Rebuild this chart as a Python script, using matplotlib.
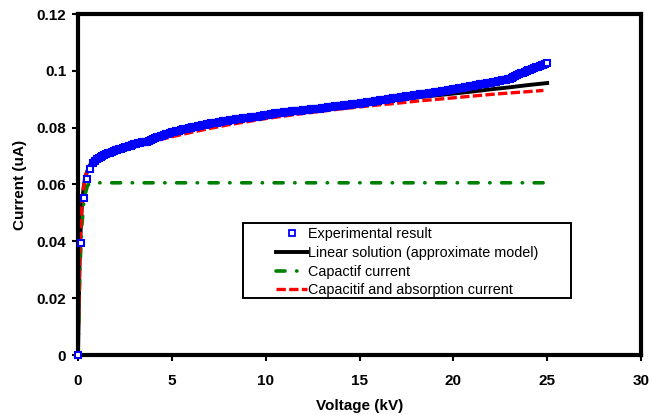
import matplotlib
matplotlib.use("Agg")
import matplotlib.pyplot as plt
from matplotlib.patches import Rectangle

plt.rcParams['font.family'] = ['Liberation Sans', 'DejaVu Sans']

# Experimental result (voltage kV, current uA)
exp_x = [0.0, 0.16, 0.34, 0.5, 0.64, 0.8, 0.9,
         1.0, 1.1, 1.2, 1.3, 1.4, 1.5, 1.6, 1.7, 1.8, 1.9,
         2.0, 2.1, 2.2, 2.3, 2.4, 2.5, 2.6, 2.7, 2.8, 2.9,
         3.0, 3.1, 3.2, 3.3, 3.4, 3.5, 3.6, 3.7, 3.8, 3.9,
         4.0, 4.1, 4.2, 4.3, 4.4, 4.5, 4.6, 4.7, 4.8, 4.9,
         5.0, 5.1, 5.2, 5.3, 5.4, 5.5, 5.6, 5.7, 5.8, 5.9,
         6.0, 6.1, 6.2, 6.3, 6.4, 6.5, 6.6, 6.7, 6.8, 6.9,
         7.0, 7.1, 7.2, 7.3, 7.4, 7.5, 7.6, 7.7, 7.8, 7.9,
         8.0, 8.1, 8.2, 8.3, 8.4, 8.5, 8.6, 8.7, 8.8, 8.9,
         9.0, 9.1, 9.2, 9.3, 9.4, 9.5, 9.6, 9.7, 9.8, 9.9,
         10.0, 10.1, 10.2, 10.3, 10.4, 10.5, 10.6, 10.7, 10.8, 10.9,
         11.0, 11.1, 11.2, 11.3, 11.4, 11.5, 11.6, 11.7, 11.8, 11.9,
         12.0, 12.1, 12.2, 12.3, 12.4, 12.5, 12.6, 12.7, 12.8, 12.9,
         13.0, 13.1, 13.2, 13.3, 13.4, 13.5, 13.6, 13.7, 13.8, 13.9,
         14.0, 14.1, 14.2, 14.3, 14.4, 14.5, 14.6, 14.7, 14.8, 14.9,
         15.0, 15.1, 15.2, 15.3, 15.4, 15.5, 15.6, 15.7, 15.8, 15.9,
         16.0, 16.1, 16.2, 16.3, 16.4, 16.5, 16.6, 16.7, 16.8, 16.9,
         17.0, 17.1, 17.2, 17.3, 17.4, 17.5, 17.6, 17.7, 17.8, 17.9,
         18.0, 18.1, 18.2, 18.3, 18.4, 18.5, 18.6, 18.7, 18.8, 18.9,
         19.0, 19.1, 19.2, 19.3, 19.4, 19.5, 19.6, 19.7, 19.8, 19.9,
         20.0, 20.1, 20.2, 20.3, 20.4, 20.5, 20.6, 20.7, 20.8, 20.9,
         21.0, 21.1, 21.2, 21.3, 21.4, 21.5, 21.6, 21.7, 21.8, 21.9,
         22.0, 22.1, 22.2, 22.3, 22.4, 22.5, 22.6, 22.7, 22.8, 22.9,
         23.0, 23.1, 23.2, 23.3, 23.4, 23.5, 23.6, 23.7, 23.8, 23.9,
         24.0, 24.1, 24.2, 24.3, 24.4, 24.5, 24.6, 24.7, 24.8, 24.9,
         25.0]
exp_y = [0.0, 0.0395, 0.0554, 0.0621, 0.0653, 0.0675, 0.0682,
         0.0690, 0.0693, 0.0697, 0.0700, 0.0703, 0.0708, 0.0710, 0.0712, 0.0714, 0.0717,
         0.0721, 0.0722, 0.0724, 0.0726, 0.0729, 0.0731, 0.0733, 0.0735, 0.0737, 0.0739,
         0.0741, 0.0743, 0.0745, 0.0746, 0.0748, 0.0750, 0.0749, 0.0748, 0.0752, 0.0757,
         0.0761, 0.0764, 0.0766, 0.0768, 0.0770, 0.0772, 0.0774, 0.0777, 0.0779, 0.0781,
         0.0784, 0.0785, 0.0787, 0.0789, 0.0790, 0.0792, 0.0794, 0.0795, 0.0797, 0.0798,
         0.0800, 0.0801, 0.0803, 0.0804, 0.0806, 0.0807, 0.0808, 0.0810, 0.0811, 0.0812,
         0.0813, 0.0815, 0.0816, 0.0817, 0.0818, 0.0819, 0.0820, 0.0822, 0.0823, 0.0823,
         0.0824, 0.0826, 0.0827, 0.0828, 0.0829, 0.0830, 0.0831, 0.0832, 0.0833, 0.0833,
         0.0834, 0.0835, 0.0836, 0.0837, 0.0837, 0.0838, 0.0839, 0.0840, 0.0842, 0.0843,
         0.0844, 0.0845, 0.0846, 0.0848, 0.0849, 0.0850, 0.0850, 0.0851, 0.0852, 0.0853,
         0.0854, 0.0855, 0.0855, 0.0856, 0.0857, 0.0858, 0.0859, 0.0859, 0.0860, 0.0860,
         0.0861, 0.0862, 0.0863, 0.0863, 0.0864, 0.0865, 0.0865, 0.0866, 0.0866, 0.0867,
         0.0868, 0.0869, 0.0870, 0.0871, 0.0872, 0.0873, 0.0874, 0.0875, 0.0875, 0.0876,
         0.0877, 0.0878, 0.0879, 0.0880, 0.0880, 0.0881, 0.0882, 0.0883, 0.0884, 0.0884,
         0.0885, 0.0886, 0.0887, 0.0888, 0.0889, 0.0890, 0.0891, 0.0892, 0.0893, 0.0894,
         0.0895, 0.0896, 0.0897, 0.0898, 0.0899, 0.0900, 0.0901, 0.0902, 0.0903, 0.0904,
         0.0905, 0.0906, 0.0907, 0.0908, 0.0909, 0.0910, 0.0911, 0.0912, 0.0913, 0.0914,
         0.0915, 0.0916, 0.0917, 0.0917, 0.0918, 0.0919, 0.0920, 0.0921, 0.0922, 0.0923,
         0.0924, 0.0925, 0.0926, 0.0927, 0.0928, 0.0929, 0.0930, 0.0931, 0.0932, 0.0934,
         0.0935, 0.0936, 0.0937, 0.0938, 0.0940, 0.0941, 0.0942, 0.0943, 0.0944, 0.0946,
         0.0947, 0.0948, 0.0949, 0.0950, 0.0952, 0.0953, 0.0954, 0.0955, 0.0956, 0.0957,
         0.0958, 0.0959, 0.0960, 0.0962, 0.0963, 0.0964, 0.0966, 0.0967, 0.0969, 0.0971,
         0.0973, 0.0976, 0.0979, 0.0982, 0.0985, 0.0988, 0.0991, 0.0994, 0.0997, 0.1000,
         0.1002, 0.1004, 0.1007, 0.1009, 0.1012, 0.1014, 0.1016, 0.1019, 0.1021, 0.1023,
         0.1026]

# Linear solution (approximate model)
lin_x = [0, 0.05, 0.1, 0.2, 0.3, 0.4, 0.6, 0.8, 1, 1.5, 2, 3, 4, 5, 6, 7, 8, 9,
         10, 11, 12, 13, 14, 15, 16, 17, 18, 19, 20, 21, 22, 23, 24, 25]
lin_y = [0, 0.020, 0.038, 0.052, 0.059, 0.063, 0.0665, 0.0683, 0.0693, 0.0709,
         0.0721, 0.0741, 0.0759, 0.0777, 0.0793, 0.0807, 0.0820, 0.0832, 0.0842,
         0.0852, 0.0861, 0.0869, 0.0877, 0.0885, 0.0892, 0.0899, 0.0906, 0.0913,
         0.0920, 0.0927, 0.0935, 0.0942, 0.0950, 0.0957]

# Capacitif current
cap_x = [0, 0.05, 0.1, 0.2, 0.3, 0.4, 0.5, 0.6, 0.8, 25]
cap_y = [0, 0.015, 0.030, 0.045, 0.053, 0.057, 0.0595, 0.0603, 0.0606, 0.0606]

# Capacitif and absorption current
abs_x = [0, 0.05, 0.1, 0.2, 0.3, 0.4, 0.6, 0.8, 1, 1.5, 2, 3, 4, 5, 6, 7, 8, 9,
         10, 11, 12, 13, 14, 15, 16, 17, 18, 19, 20, 21, 22, 23, 24, 24.8]
abs_y = [0, 0.020, 0.038, 0.052, 0.059, 0.063, 0.0663, 0.0680, 0.0690, 0.0705,
         0.0716, 0.0735, 0.0752, 0.0768, 0.0783, 0.0797, 0.0810, 0.0821, 0.0832,
         0.0841, 0.0850, 0.0858, 0.0866, 0.0873, 0.0880, 0.0886, 0.0893, 0.0899,
         0.0905, 0.0911, 0.0917, 0.0922, 0.0927, 0.0931]

x_ticks = [0, 5, 10, 15, 20, 25, 30]
y_ticks = [0, 0.02, 0.04, 0.06, 0.08, 0.1, 0.12]
y_tick_labels = ['0', '0.02', '0.04', '0.06', '0.08', '0.1', '0.12']

fig = plt.figure(figsize=(6.52, 4.15), dpi=100)
ax = fig.add_axes([78/652, 1-355/415, (641-78)/652, (355-14)/415])

ax.plot(lin_x, lin_y, color='black', linewidth=2.8,
        label='Linear solution (approximate model)', zorder=2)
ax.plot(cap_x, cap_y, color='#008000', linewidth=2.6,
        dashes=(2.5, 3.2, 0.1, 3.2), dash_capstyle='round',
        label='Capactif current', zorder=2)
ax.plot(abs_x, abs_y, color='#ff0000', linewidth=2.4, dashes=(2.8, 1.0),
        label='Capacitif and absorption current', zorder=2.5)
ax.plot(exp_x, exp_y, linestyle='none', marker='s', markersize=4.6,
        markerfacecolor='white', markeredgecolor='#0000ff', markeredgewidth=1.5,
        label='Experimental result', clip_on=False, zorder=3)

ax.set_xlim(0, 30)
ax.set_ylim(0, 0.12)
ax.set_xticks(x_ticks)
ax.set_yticks(y_ticks)
ax.set_yticklabels(y_tick_labels)

for s in ax.spines.values():
    s.set_linewidth(3)
    s.set_color('black')
ax.tick_params(axis='both', direction='out', length=4.5, width=1.5,
               labelsize=11)
ax.tick_params(axis='x', pad=9)
ax.tick_params(axis='y', pad=4)
for lab in ax.get_xticklabels() + ax.get_yticklabels():
    lab.set_fontweight('bold')

ax.set_xlabel('Voltage (kV)', fontsize=11, fontweight='bold', labelpad=8)
ax.set_ylabel('Current (uA)', fontsize=11, fontweight='bold', labelpad=7)

# legend frame (fixed size box) and centred legend content
box = (0.293, 0.167, 0.583, 0.22)
ax.add_patch(Rectangle((box[0], box[1]), box[2], box[3], transform=ax.transAxes,
                       facecolor='white', edgecolor='black', linewidth=1.4,
                       zorder=4))
handles, labels = ax.get_legend_handles_labels()
order = [3, 0, 1, 2]
leg = ax.legend([handles[i] for i in order], [labels[i] for i in order],
                loc='center', bbox_to_anchor=(0.293, 0.162, 0.583, 0.22),
                borderaxespad=0,
                fontsize=10.4, frameon=False, handlelength=2.2,
                handletextpad=0.05, labelspacing=0.33, borderpad=0.2)
leg.set_zorder(5)
for h in leg.legend_handles:
    if hasattr(h, 'set_markersize'):
        h.set_markersize(4)
        h.set_markeredgewidth(1.3)

fig.savefig('out.png', dpi=100)
